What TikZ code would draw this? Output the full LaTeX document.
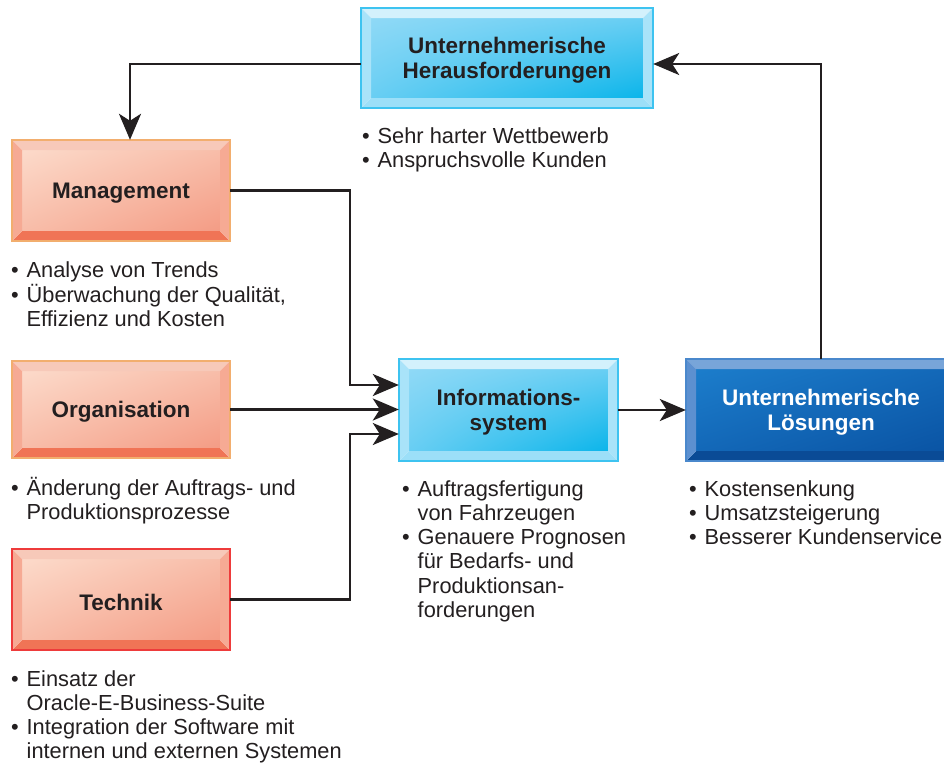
\documentclass[tikz,border=0pt]{standalone}
\usepackage{fontspec}
\setmainfont{Liberation Sans}
\usetikzlibrary{arrows.meta,calc,shadings}

% colour schemes: A/M/Z face gradient, T/L/R/B bevels, O outline
\definecolor{ink}{HTML}{231F20}
\definecolor{cyA}{HTML}{8FD9F6}
\definecolor{cyM}{HTML}{68CEF3}
\definecolor{cyZ}{HTML}{0BB5EA}
\definecolor{cyT}{HTML}{D3F1FC}
\definecolor{cyL}{HTML}{A9E3F9}
\definecolor{cyR}{HTML}{A9E3F9}
\definecolor{cyB}{HTML}{9CDFF8}
\definecolor{cyO}{HTML}{3EC3F0}
\definecolor{saA}{HTML}{FCDACA}
\definecolor{saM}{HTML}{F8BDA9}
\definecolor{saZ}{HTML}{F49C85}
\definecolor{saT}{HTML}{F7C9B9}
\definecolor{saL}{HTML}{F6AA94}
\definecolor{saR}{HTML}{F6AA94}
\definecolor{saB}{HTML}{F07456}
\definecolor{saO}{HTML}{F2AE6E}
\definecolor{saRed}{HTML}{EE3B3B}
\definecolor{blA}{HTML}{1C7DCB}
\definecolor{blM}{HTML}{1368B8}
\definecolor{blZ}{HTML}{0A54A4}
\definecolor{blT}{HTML}{78A5D9}
\definecolor{blL}{HTML}{5C90D0}
\definecolor{blR}{HTML}{5C90D0}
\definecolor{blB}{HTML}{0A4B96}
\definecolor{blO}{HTML}{4A88CC}

\tikzset{
  boxtext/.style={inner sep=0pt, align=center, font=\fontsize{22.5}{25}\selectfont\bfseries, text=ink},
  bullets/.style={anchor=base west, inner sep=0pt, font=\fontsize{21.8}{24.3}\selectfont, text=ink},
  arr/.style={draw=ink, line width=2.7pt, -{Stealth[length=26pt,width=22pt,inset=7pt]}},
}

\newcommand\itm{\makebox[15.5pt][l]{•}}
\newcommand\ind{\hspace*{15.5pt}}

% #1 name, #2 scheme, #3-#6 outer corners, #7 label, #8 label style, #9 border colour
\newcommand\bevelbox[9]{%
  \shade[upper left=#2A, lower right=#2Z, upper right=#2M, lower left=#2M]
    ({#3+10},{#4+10}) rectangle ({#5-10},{#6-10});
  \fill[#2T] (#3,#4) -- (#5,#4) -- ({#5-10},{#4+10}) -- ({#3+10},{#4+10}) -- cycle;
  \fill[#2B] (#3,#6) -- (#5,#6) -- ({#5-10},{#6-10}) -- ({#3+10},{#6-10}) -- cycle;
  \fill[#2L] (#3,#4) -- ({#3+10},{#4+10}) -- ({#3+10},{#6-10}) -- (#3,#6) -- cycle;
  \fill[#2R] (#5,#4) -- ({#5-10},{#4+10}) -- ({#5-10},{#6-10}) -- (#5,#6) -- cycle;
  \draw[#9, line width=1.2pt] (#3,#4) rectangle (#5,#6);
  \node[inner sep=0pt, minimum width={#5-#3}, minimum height={#6-#4}] (#1)
    at ({(#3+#5)/2},{(#4+#6)/2}) {};
  \node[boxtext, #8] (#1-label) at ({(#3+#5)/2},{(#4+#6)/2+2.5}) {#7};
}

\begin{document}
\begin{tikzpicture}[x=1pt, y=-1pt]
\useasboundingbox[fill=white] (0,0) rectangle (944,763);

% boxes
\bevelbox{top}{cy}{361}{8}{653}{108}{Unternehmerische\\Herausforderungen}{}{cyO}
\bevelbox{mgmt}{sa}{12}{140}{230}{241}{Management}{}{saO}
\bevelbox{org}{sa}{12}{361}{230}{458}{Organisation}{}{saO}
\bevelbox{tech}{sa}{12}{549}{230}{650}{Technik}{}{saRed}
\bevelbox{info}{cy}{399}{359}{618}{461}{Informations-\\system}{}{cyO}
\bevelbox{loes}{bl}{686}{359}{956}{461}{Unternehmerische\\Lösungen}{text=white}{blO}

% bullet lists
\node[bullets] (topnotes) at (362,143) {\begin{tabular}[t]{@{}l@{}}
\itm Sehr harter Wettbewerb\\
\itm Anspruchsvolle Kunden
\end{tabular}};
\node[bullets] (mgmtnotes) at (11,277) {\begin{tabular}[t]{@{}l@{}}
\itm Analyse von Trends\\
\itm Überwachung der Qualität,\\
\ind Effizienz und Kosten
\end{tabular}};
\node[bullets] (orgnotes) at (11,495) {\begin{tabular}[t]{@{}l@{}}
\itm Änderung der Auftrags- und\\
\ind Produktionsprozesse
\end{tabular}};
\node[bullets] (technotes) at (11,686) {\begin{tabular}[t]{@{}l@{}}
\itm Einsatz der\\
\ind Oracle-E-Business-Suite\\
\itm Integration der Software mit\\
\ind internen und externen Systemen
\end{tabular}};
\node[bullets] (infonotes) at (402,496) {\begin{tabular}[t]{@{}l@{}}
\itm Auftragsfertigung\\
\ind von Fahrzeugen\\
\itm Genauere Prognosen\\
\ind für Bedarfs- und\\
\ind Produktionsan-\\
\ind forderungen
\end{tabular}};
\node[bullets] (loesnotes) at (689,496) {\begin{tabular}[t]{@{}l@{}}
\itm Kostensenkung\\
\itm Umsatzsteigerung\\
\itm Besserer Kundenservice
\end{tabular}};

% connectors
\coordinate (topL) at ([yshift=-6pt]top.west);
\coordinate (topR) at ([yshift=-6pt]top.east);
\coordinate (mgmtIn) at ([xshift=9pt]mgmt.north);
\coordinate (infoHi) at ([yshift=25pt]info.west);
\coordinate (infoLo) at ([yshift=-24pt]info.west);
\coordinate (bus) at (350,0);

\draw[arr] (topL) -| (mgmtIn);
\draw[arr] (loes.north) |- (topR);
\draw[arr] (mgmt.east) -| (bus |- infoHi) -- (infoHi);
\draw[arr] (org.east) -- (org.east -| info.west);
\draw[arr] (tech.east) -| (bus |- infoLo) -- (infoLo);
\draw[arr] (info.east) -- (loes.west |- info.east);
\end{tikzpicture}
\end{document}
